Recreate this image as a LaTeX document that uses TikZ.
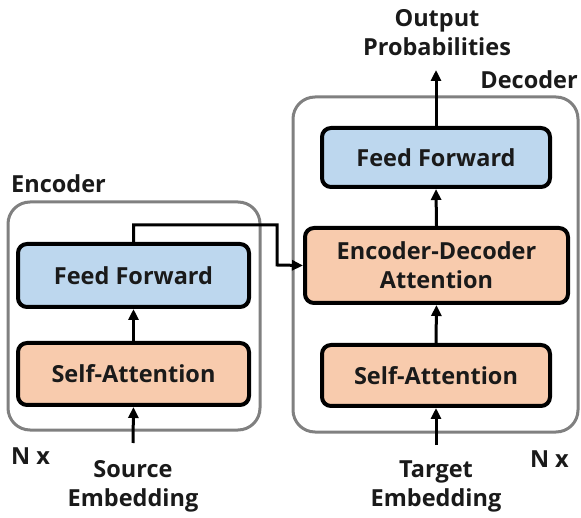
\documentclass[tikz,border=0pt]{standalone}
\usepackage{fontspec}
\setmainfont{Open Sans}
\usetikzlibrary{arrows.meta}
\definecolor{ffblue}{HTML}{BDD7EE}
\definecolor{attnorange}{HTML}{F8CBAD}
\definecolor{framegray}{HTML}{808080}
\definecolor{inktext}{HTML}{1A1A1A}
\tikzset{
  frame/.style={draw=framegray, line width=3pt, rounded corners=22pt},
  block/.style={draw=black, line width=4pt, rounded corners=9pt, inner sep=0pt,
    font=\fontsize{23.5}{29}\selectfont\bfseries, text=inktext, align=center},
  ffblock/.style={block, fill=ffblue},
  attblock/.style={block, fill=attnorange},
  lbl/.style={font=\fontsize{23.5}{29}\selectfont\bfseries, text=inktext, align=center, inner sep=0pt},
  flow/.style={line width=3pt, -{Triangle[length=11pt,width=10pt]}},
}
\begin{document}
\begin{tikzpicture}[x=1pt,y=-1pt]
\useasboundingbox (0,0) rectangle (581,518);

% outer frames
\draw[frame] (8,202) rectangle (260,430);
\draw[frame] (293,97) rectangle (578,432);

% encoder blocks
\node[ffblock, minimum width=231pt, minimum height=63pt] (eff) at (133.5,275.5) {Feed Forward};
\node[attblock, minimum width=231pt, minimum height=62pt] (esa) at (133.5,374) {Self-Attention};

% decoder blocks
\node[ffblock, minimum width=228pt, minimum height=59pt] (dff) at (436,157.5) {Feed Forward};
\node[attblock, minimum width=263pt, minimum height=75pt] (eda) at (436.5,265.5) {Encoder-Decoder\\Attention};
\node[attblock, minimum width=228pt, minimum height=61pt] (dsa) at (436,375.5) {Self-Attention};

% labels
\node[lbl, anchor=west] (enclbl) at (11,184) {Encoder};
\node[lbl, anchor=east] (declbl) at (578,80) {Decoder};
\node[lbl, anchor=west] (encn) at (11,456) {N x};
\node[lbl, anchor=east] (decn) at (569,459) {N x};
\node[lbl] (src) at (133,486) {Source\\Embedding};
\node[lbl] (tgt) at (436,486) {Target\\Embedding};
\node[lbl] (out) at (437,33) {Output\\Probabilities};

% connectors
\coordinate (srcin) at (133,443);
\coordinate (tgtin) at (436,445);
\coordinate (outend) at (436,70);
\draw[flow] (srcin) -- (esa.south);
\draw[flow] (esa.north) -- (eff.south);
\draw[flow] (tgtin) -- (dsa.south);
\draw[flow] (dsa.north) -- (eda.south);
\draw[flow] (eda.north) -- (dff.south);
\draw[flow] (dff.north) -- (outend);
\draw[flow] (eff.north) -- ++(0,-17) -| (277,265) -- (eda.west);
\end{tikzpicture}
\end{document}
